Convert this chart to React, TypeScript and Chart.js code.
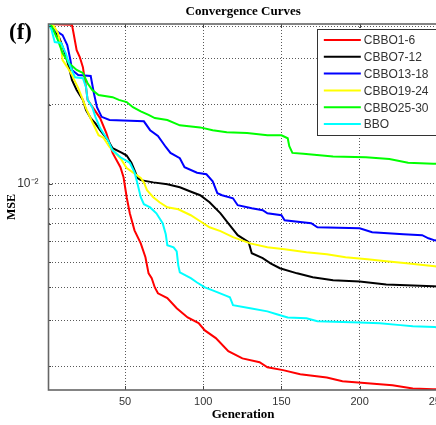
import React, { useEffect, useRef } from 'react';
import { Chart, registerables } from 'chart.js';

Chart.register(...registerables);

const TITLE = 'Convergence Curves';
const PANEL = '(f)';
const X_TITLE = 'Generation';
const Y_TITLE = 'MSE';

const SERIES_LABELS = ['CBBO1-6', 'CBBO7-12', 'CBBO13-18', 'CBBO19-24', 'CBBO25-30', 'BBO'];
const SERIES_COLORS = ['#ff0000', '#000000', '#0000ff', '#ffff00', '#00ff00', '#00ffff'];

const X_TICKS = [50, 100, 150, 200, 250];
const Y_GRID = [0.002, 0.003, 0.004, 0.005, 0.006, 0.007, 0.008, 0.009, 0.01, 0.02, 0.03, 0.04];
const Y_LABELLED = 0.01;
const Y_LABEL_TEXT = '10⁻²';
const X_MIN = 1;
const X_MAX = 250;
const Y_MIN = 0.00162;
const Y_MAX = 0.0408;

const redGen = [1, 16, 17, 19, 21, 23, 24, 25, 26, 34, 38, 42, 47, 49, 51, 53, 56, 60, 63, 65, 67, 69, 71, 77, 83, 90, 97, 101, 108, 116, 125, 136, 141, 151, 162, 179, 189, 205, 221, 234, 247, 250];
const redMse = [0.0408, 0.0405, 0.0377, 0.0324, 0.0305, 0.0279, 0.0255, 0.0234, 0.0209, 0.0178, 0.0156, 0.0131, 0.01155, 0.01057, 0.00886, 0.00769, 0.00662, 0.0059, 0.00522, 0.00453, 0.00434, 0.004, 0.0038, 0.00364, 0.00333, 0.00307, 0.00292, 0.00274, 0.00256, 0.00228, 0.00214, 0.00207, 0.00198, 0.00193, 0.00186, 0.00181, 0.00175, 0.00172, 0.00169, 0.00164, 0.00163, 0.00163];

const blackGen = [1, 3, 8, 12, 14, 16, 19, 23, 25, 28, 31, 34, 39, 42, 48, 51, 54, 56, 58, 60, 68, 77, 85, 93, 98, 104, 111, 117, 122, 129, 131, 138, 143, 149, 160, 170, 183, 200, 217, 230, 247, 250];
const blackMse = [0.0408, 0.0397, 0.036, 0.031, 0.0279, 0.0249, 0.0228, 0.0209, 0.0191, 0.0178, 0.017, 0.016, 0.01465, 0.01365, 0.0131, 0.0128, 0.012, 0.01125, 0.0105, 0.0103, 0.0101, 0.00994, 0.00968, 0.00926, 0.00902, 0.00848, 0.00769, 0.00692, 0.00634, 0.00596, 0.00541, 0.00518, 0.00495, 0.00474, 0.00453, 0.00438, 0.00426, 0.00422, 0.00411, 0.00408, 0.00404, 0.00403];

const blueGen = [1, 3, 10, 13, 15, 16, 20, 28, 30, 32, 35, 40, 62, 66, 71, 76, 79, 85, 88, 96, 102, 106, 109, 112, 119, 122, 131, 138, 141, 150, 152, 169, 173, 200, 208, 228, 240, 244, 248, 250];
const blueMse = [0.0408, 0.0394, 0.037, 0.0339, 0.0297, 0.0272, 0.026, 0.0258, 0.0222, 0.0196, 0.018, 0.0175, 0.0173, 0.016, 0.0152, 0.0138, 0.0131, 0.0125, 0.01155, 0.011, 0.01085, 0.0102, 0.00918, 0.00902, 0.00878, 0.00826, 0.00804, 0.0079, 0.00769, 0.00756, 0.00723, 0.00705, 0.0068, 0.00674, 0.00651, 0.00639, 0.00634, 0.00617, 0.00606, 0.00604];

const yellowGen = [1, 4, 7, 9, 10, 13, 16, 20, 23, 25, 29, 33, 36, 40, 47, 51, 60, 62, 64, 68, 72, 77, 84, 92, 98, 104, 111, 119, 130, 141, 152, 166, 179, 191, 205, 217, 230, 248, 250];
const yellowMse = [0.0408, 0.0404, 0.0377, 0.0333, 0.0297, 0.0279, 0.026, 0.0232, 0.0209, 0.0194, 0.0172, 0.0153, 0.015, 0.0138, 0.0125, 0.01145, 0.0105, 0.0101, 0.00943, 0.00886, 0.00848, 0.00811, 0.00797, 0.00756, 0.00717, 0.0068, 0.00657, 0.00623, 0.0059, 0.0057, 0.0056, 0.00546, 0.00536, 0.00522, 0.00513, 0.00504, 0.00495, 0.00482, 0.0048];

const greenGen = [1, 3, 7, 10, 14, 19, 23, 26, 29, 33, 42, 46, 51, 55, 60, 65, 69, 77, 85, 98, 106, 115, 128, 141, 150, 154, 155, 157, 164, 183, 204, 219, 231, 247, 250];
const greenMse = [0.0408, 0.04, 0.0354, 0.0316, 0.0289, 0.0272, 0.0265, 0.0242, 0.0228, 0.0218, 0.0214, 0.0209, 0.0205, 0.0196, 0.0189, 0.0183, 0.0178, 0.0175, 0.0167, 0.0164, 0.016, 0.0157, 0.0156, 0.0153, 0.0153, 0.0149, 0.0139, 0.0131, 0.013, 0.0127, 0.0126, 0.0124, 0.012, 0.0119, 0.0119];

const cyanGen = [1, 3, 5, 9, 12, 14, 18, 23, 25, 26, 29, 31, 34, 39, 42, 47, 53, 56, 58, 60, 62, 66, 70, 74, 76, 77, 81, 83, 84, 85, 92, 96, 101, 106, 114, 117, 119, 130, 141, 147, 154, 166, 173, 200, 213, 226, 234, 248, 250];
const cyanMse = [0.0408, 0.0387, 0.0348, 0.0345, 0.0316, 0.0289, 0.0255, 0.0253, 0.0234, 0.0209, 0.0196, 0.018, 0.0163, 0.01465, 0.0134, 0.0126, 0.012, 0.01105, 0.00994, 0.00886, 0.00833, 0.0081, 0.00769, 0.00705, 0.00639, 0.0058, 0.0057, 0.0055, 0.00486, 0.00457, 0.00434, 0.00418, 0.004, 0.0039, 0.00373, 0.00367, 0.00342, 0.00333, 0.00324, 0.00316, 0.00307, 0.00305, 0.00297, 0.00294, 0.00292, 0.00287, 0.00284, 0.00282, 0.00281];

const SERIES_GENS = [redGen, blackGen, blueGen, yellowGen, greenGen, cyanGen];
const SERIES_MSE = [redMse, blackMse, blueMse, yellowMse, greenMse, cyanMse];

const CANVAS_W = 452;
const CANVAS_H = 425;

const decorPlugin = {
  id: 'decor',
  afterDraw(chart: any) {
    const { ctx, chartArea: a, scales } = chart;
    ctx.save();
    // inward tick marks
    ctx.strokeStyle = '#444';
    ctx.lineWidth = 1;
    ctx.beginPath();
    X_TICKS.forEach((v) => {
      const px = Math.round(scales.x.getPixelForValue(v)) + 0.5;
      ctx.moveTo(px, a.bottom);
      ctx.lineTo(px, a.bottom - 4);
      ctx.moveTo(px, a.top);
      ctx.lineTo(px, a.top + 4);
    });
    Y_GRID.forEach((v) => {
      const py = Math.round(scales.y.getPixelForValue(v)) + 0.5;
      const len = v === Y_LABELLED ? 4 : 2.5;
      ctx.moveTo(a.left, py);
      ctx.lineTo(a.left + len, py);
    });
    ctx.stroke();
    // axes box
    ctx.strokeStyle = '#666';
    ctx.lineWidth = 1.6;
    ctx.strokeRect(a.left, a.top, a.right - a.left, a.bottom - a.top);

    // title and panel letter
    ctx.fillStyle = '#000';
    ctx.font = 'bold 13px "Liberation Serif", "Times New Roman", serif';
    ctx.textAlign = 'center';
    ctx.textBaseline = 'alphabetic';
    ctx.fillText(TITLE, (a.left + a.right) / 2, 15);
    ctx.font = 'bold 23px "Liberation Serif", "Times New Roman", serif';
    ctx.textAlign = 'left';
    ctx.fillText(PANEL, 9, 39);

    // legend
    const bx = a.right - 121;
    const by = a.top + 5;
    const bw = 132;
    const bh = 106;
    ctx.fillStyle = '#fff';
    ctx.fillRect(bx, by, bw, bh);
    ctx.strokeStyle = '#333';
    ctx.lineWidth = 1;
    ctx.strokeRect(Math.round(bx) + 0.5, Math.round(by) + 0.5, bw, bh);
    ctx.font = '12px "Liberation Sans", Arial, sans-serif';
    ctx.textBaseline = 'middle';
    ctx.textAlign = 'left';
    chart.data.datasets.forEach((ds: any, i: number) => {
      const ry = by + 11 + i * 16.8;
      ctx.strokeStyle = ds.borderColor;
      ctx.lineWidth = 2;
      ctx.beginPath();
      ctx.moveTo(bx + 7, ry);
      ctx.lineTo(bx + 44, ry);
      ctx.stroke();
      ctx.fillStyle = '#333';
      ctx.fillText(ds.label, bx + 47, ry + 1);
    });
    ctx.restore();
  },
};

export default function App() {
  const canvasRef = useRef<HTMLCanvasElement | null>(null);

  useEffect(() => {
    const canvas = canvasRef.current;
    if (!canvas) return;
    const datasets = SERIES_LABELS.map((label, i) => ({
      label,
      data: SERIES_GENS[i].map((g, j) => ({ x: g, y: SERIES_MSE[i][j] })),
      borderColor: SERIES_COLORS[i],
      backgroundColor: SERIES_COLORS[i],
      borderWidth: 2,
      pointRadius: 0,
      fill: false,
      tension: 0,
      order: SERIES_LABELS.length - i,
    }));

    const chart = new Chart(canvas, {
      type: 'line',
      data: { datasets },
      plugins: [decorPlugin],
      options: {
        responsive: false,
        animation: false,
        events: [],
        devicePixelRatio: 1,
        layout: { padding: { left: 0, top: 24, right: CANVAS_W - 438.2, bottom: 0 } },
        plugins: {
          legend: { display: false },
          title: { display: false },
          tooltip: { enabled: false },
        },
        scales: {
          x: {
            type: 'linear',
            min: X_MIN,
            max: X_MAX,
            afterBuildTicks: (s: any) => {
              s.ticks = X_TICKS.map((v) => ({ value: v }));
            },
            afterFit: (s: any) => {
              s.height = 35;
            },
            grid: { color: 'rgba(0,0,0,0.65)', lineWidth: 1, drawTicks: false },
            border: { display: false, dash: [1, 2] },
            ticks: {
              autoSkip: false,
              maxRotation: 0,
              padding: 5,
              color: '#333',
              font: { family: '"Liberation Sans", Arial, sans-serif', size: 11 },
              callback: (v: any) => String(v),
            },
            title: {
              display: true,
              text: X_TITLE,
              color: '#000',
              font: { family: '"Liberation Serif", "Times New Roman", serif', size: 13, weight: 'bold' },
              padding: { top: 0, bottom: 3 },
            },
          },
          y: {
            type: 'logarithmic',
            min: Y_MIN,
            max: Y_MAX,
            afterBuildTicks: (s: any) => {
              s.ticks = Y_GRID.map((v) => ({ value: v }));
            },
            afterFit: (s: any) => {
              s.width = 48.5;
            },
            grid: { color: 'rgba(0,0,0,0.65)', lineWidth: 1, drawTicks: false },
            border: { display: false, dash: [1, 2] },
            ticks: {
              autoSkip: false,
              padding: 10,
              color: '#333',
              font: { family: '"Liberation Sans", Arial, sans-serif', size: 12 },
              callback: (v: any) => (v === Y_LABELLED ? Y_LABEL_TEXT : ''),
            },
            title: {
              display: true,
              text: Y_TITLE,
              color: '#000',
              font: { family: '"Liberation Serif", "Times New Roman", serif', size: 12, weight: 'bold' },
              padding: { top: 5, bottom: 0 },
            },
          },
        },
      } as any,
    });
    return () => chart.destroy();
  }, []);

  return (
    <div
      style={{
        position: 'fixed',
        left: 0,
        top: 0,
        width: 436,
        height: 425,
        overflow: 'hidden',
        background: '#fff',
      }}
    >
      <canvas ref={canvasRef} width={CANVAS_W} height={CANVAS_H} style={{ display: 'block' }} />
    </div>
  );
}
